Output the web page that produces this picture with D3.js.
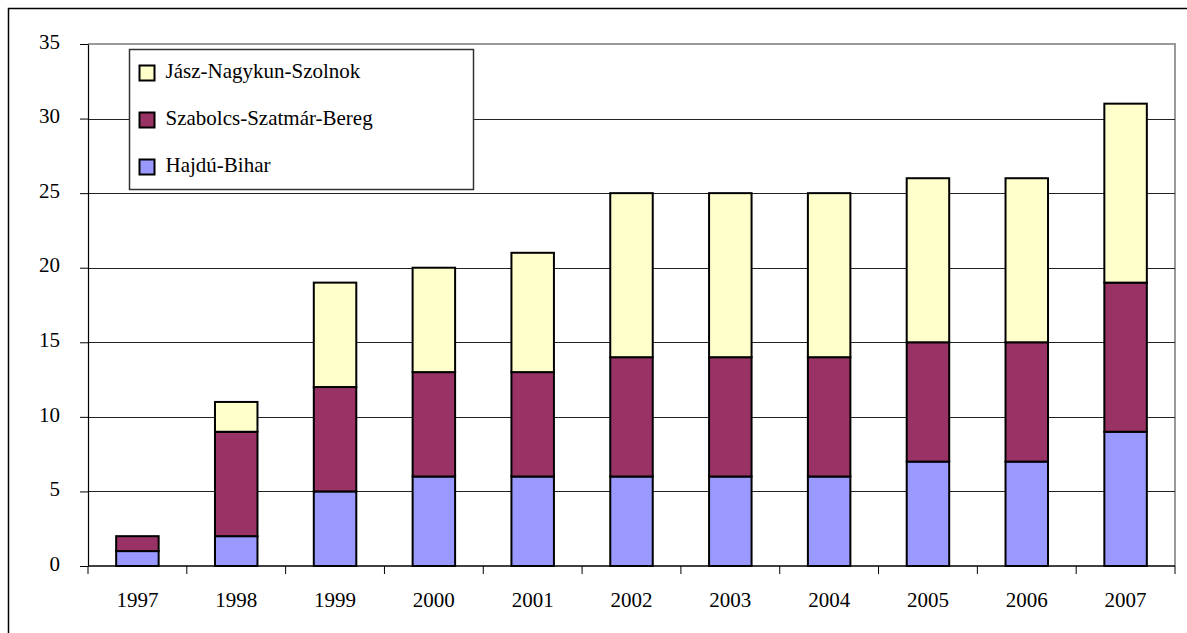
<!DOCTYPE html>
<html>
<head>
<meta charset="utf-8">
<script src="https://cdn.jsdelivr.net/npm/d3@7"></script>
<style>
  body { margin: 0; background: #fff; }
  svg, svg text { font-family: "Times New Roman", "Liberation Serif", Tinos, "DejaVu Serif", serif; fill: #000; }
</style>
</head>
<body>
<svg id="grafico"></svg>
<script>
"use strict"

const evek = ['1997', '1998', '1999', '2000', '2001', '2002', '2003', '2004', '2005', '2006', '2007'];
const hajduBihar = [1, 2, 5, 6, 6, 6, 6, 6, 7, 7, 9];
const szabolcs = [1, 7, 7, 7, 7, 8, 8, 8, 8, 8, 10];
const jasz = [0, 2, 7, 7, 8, 11, 11, 11, 11, 11, 12];
const sorozatNevek = ['Hajdú-Bihar', 'Szabolcs-Szatmár-Bereg', 'Jász-Nagykun-Szolnok'];
const yTickek = [0, 5, 10, 15, 20, 25, 30, 35];

function iniciar(){
  const largura = 1187;
  const altura = 633;
  const margem = { esquerda: 88, direita: 12, superior: 44, inferior: 67 };
  const cores = ['#9999ff', '#993366', '#ffffcc'];
  const fonte = '"Times New Roman", "Liberation Serif", Tinos, "DejaVu Serif", serif';

  const svg = d3.select('#grafico').attr('width', largura).attr('height', altura)
                .attr('font-family', fonte);

  // moldura externa
  svg.append('rect')
     .attr('x', 8.5).attr('y', 8.5)
     .attr('width', largura).attr('height', altura)
     .attr('fill', 'none').attr('stroke', '#000').attr('stroke-width', 1.5);

  const larguraPlotagem = largura - margem.esquerda - margem.direita;
  const alturaPlotagem = altura - margem.superior - margem.inferior;

  const plotagem = svg.append('g')
                      .attr('transform', `translate(${margem.esquerda}, ${margem.superior})`);

  const x = d3.scaleBand()
              .domain(evek)
              .range([0, larguraPlotagem])
              .paddingInner(0.57)
              .paddingOuter(0.285);
  const xLimite = d3.scaleLinear().domain([0, evek.length]).range([0, larguraPlotagem]);
  const y = d3.scaleLinear()
              .domain([0, 35])
              .range([alturaPlotagem, 0]);

  // bordas da area de plotagem
  plotagem.append('path')
     .attr('d', `M0,${y(35)}H${larguraPlotagem}V${y(0)}`)
     .attr('fill', 'none').attr('stroke', '#999').attr('stroke-width', 2);

  // linhas de grade
  plotagem.selectAll('.grade')
    .data(yTickek.filter(d => d > 0 && d < 35))
    .enter()
      .append('line')
      .classed('grade', true)
      .attr('x1', 0).attr('x2', larguraPlotagem)
      .attr('y1', d => Math.round(y(d)) + 0.5).attr('y2', d => Math.round(y(d)) + 0.5)
      .attr('stroke', '#222').attr('stroke-width', 1);

  const dados = evek.map((ano, i) => ({ ano, s0: hajduBihar[i], s1: szabolcs[i], s2: jasz[i] }));
  const pilha = d3.stack().keys(['s0', 's1', 's2'])(dados);

  pilha.forEach((serie, k) => {
    plotagem.selectAll('.barra' + k)
      .data(serie.filter(d => d[1] > d[0]))
      .enter()
        .append('rect')
        .classed('barra' + k, true)
        .attr('x', d => x(d.data.ano))
        .attr('y', d => y(d[1]))
        .attr('width', x.bandwidth())
        .attr('height', d => y(d[0]) - y(d[1]))
        .attr('fill', cores[k])
        .attr('stroke', '#000')
        .attr('stroke-width', 2);
  });

  // eixo y
  const eixoY = plotagem.append('g')
    .call(d3.axisLeft(y).tickValues(yTickek).tickSize(8).tickSizeOuter(0).tickPadding(20));
  eixoY.attr('font-family', fonte);
  eixoY.select('.domain').attr('stroke', '#000').attr('stroke-width', 1.2);
  eixoY.selectAll('.tick line').attr('stroke', '#000');
  eixoY.selectAll('.tick text')
       .attr('font-size', 21)
       .attr('dy', '0.2em');

  // eixo x
  const eixoX = plotagem.append('g')
    .attr('transform', `translate(0, ${alturaPlotagem})`);
  eixoX.append('line')
       .attr('x1', 0).attr('x2', larguraPlotagem)
       .attr('stroke', '#000').attr('stroke-width', 1.5);
  eixoX.selectAll('.limite')
    .data(d3.range(evek.length + 1))
    .enter()
      .append('line')
      .classed('limite', true)
      .attr('x1', d => xLimite(d)).attr('x2', d => xLimite(d))
      .attr('y1', 0).attr('y2', 8)
      .attr('stroke', '#000');
  eixoX.selectAll('.rotulo')
    .data(evek)
    .enter()
      .append('text')
      .classed('rotulo', true)
      .text(d => d)
      .attr('x', d => x(d) + x.bandwidth() / 2)
      .attr('y', 41)
      .attr('text-anchor', 'middle')
      .attr('font-size', 21);

  // legenda
  const legenda = svg.append('g').attr('transform', 'translate(129.5, 49.5)');
  legenda.append('rect')
    .attr('width', 344).attr('height', 140)
    .attr('fill', '#fff').attr('stroke', '#333').attr('stroke-width', 1.5);
  const ordem = [2, 1, 0];
  const itens = legenda.selectAll('.item')
    .data(ordem)
    .enter()
      .append('g')
      .classed('item', true)
      .attr('transform', (d, i) => `translate(0, ${23 + i * 47})`);
  itens.append('rect')
    .attr('x', 10).attr('y', -7)
    .attr('width', 15).attr('height', 15)
    .attr('fill', d => cores[d])
    .attr('stroke', '#000').attr('stroke-width', 2);
  itens.append('text')
    .attr('x', 36).attr('y', 5)
    .attr('font-size', 21)
    .text(d => sorozatNevek[d]);
}

window.addEventListener('load', iniciar, false);
</script>
</body>
</html>
